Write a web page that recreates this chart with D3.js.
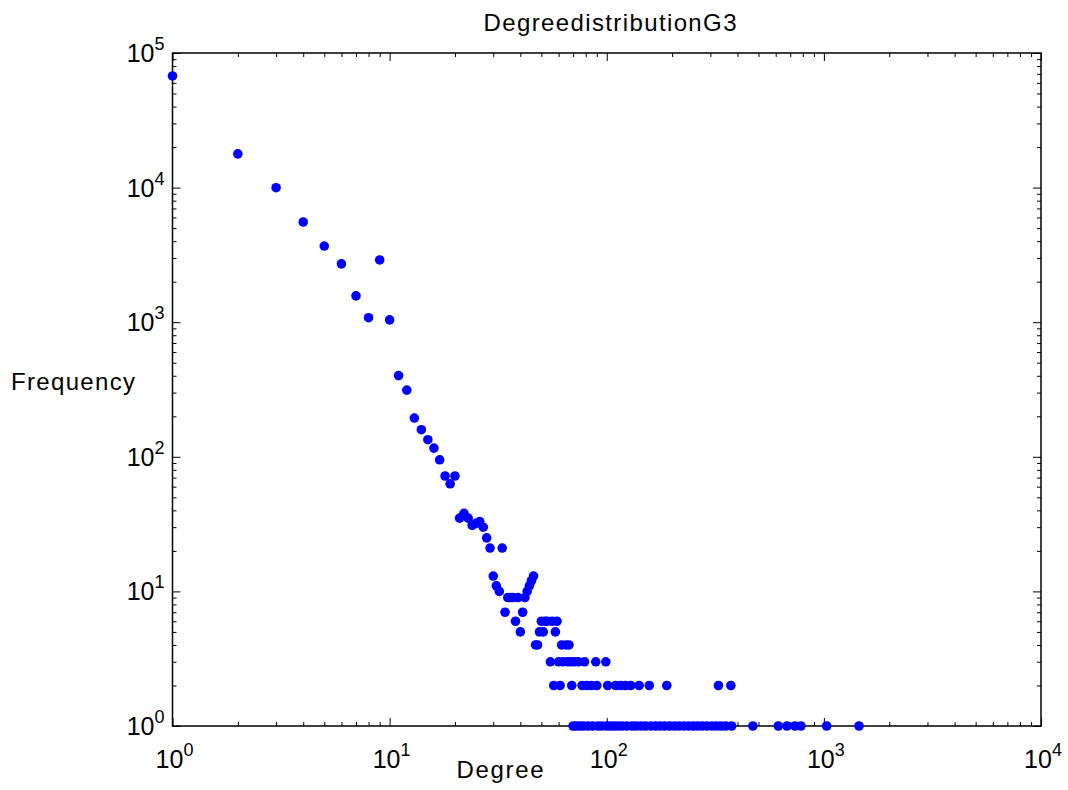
<!DOCTYPE html>
<html>
<head>
<meta charset="utf-8">
<script src="https://cdn.jsdelivr.net/npm/d3@7"></script>
<style>
  body { margin: 0; background: #fff; }
  svg { display: block; font-family: "Liberation Sans", Arial, sans-serif; }
</style>
</head>
<body>
<svg id="chart" width="1068" height="790"></svg>
<script>
// degree values and how often each one occurs
const degrees = [1, 2, 3, 4, 5, 6, 7, 8, 9, 10,
  11, 12, 13, 14, 15, 16, 17, 18, 19, 20,
  21, 22, 23, 24, 25, 26, 27, 28, 29, 30,
  31, 32, 33, 34, 35, 36, 37, 38, 39, 40,
  41, 42, 43, 44, 45, 46, 47, 48, 49, 50,
  51, 52, 53, 55, 56, 57, 58, 59, 60, 61,
  62, 63, 65, 66, 67, 68, 69, 70, 71, 72,
  74, 75, 77, 78, 79, 81, 82, 85, 86, 89,
  90, 91, 95, 99, 100, 101, 104, 108, 110, 113,
  116, 118, 122, 124, 129, 131, 137, 141, 144, 151,
  157, 160, 168, 176, 185, 189, 195, 205, 215, 226,
  238, 250, 262, 275, 290, 305, 320, 327, 336, 353,
  373, 376, 471, 617, 676, 736, 784, 1030, 1452];
const frequencies = [67500, 17800, 9980, 5550, 3680, 2710, 1570, 1080, 2900, 1040,
  401, 313, 194, 159, 134, 116, 95, 72, 63, 72,
  35, 38, 35, 31, 32, 33, 30, 25, 21, 13,
  11, 10, 21, 7, 9, 9, 9, 6, 9, 5,
  7, 9, 10, 11, 12, 13, 4, 4, 5, 6,
  5, 6, 6, 3, 6, 2, 5, 6, 3, 2,
  4, 3, 4, 3, 4, 3, 2, 1, 3, 1,
  3, 1, 2, 1, 3, 2, 1, 2, 1, 3,
  2, 1, 1, 3, 1, 2, 1, 1, 2, 1,
  2, 1, 2, 1, 2, 1, 1, 2, 1, 1,
  2, 1, 1, 1, 1, 2, 1, 1, 1, 1,
  1, 1, 1, 1, 1, 1, 1, 2, 1, 1,
  2, 1, 1, 1, 1, 1, 1, 1, 1];

const xMajor = [1, 10, 100, 1000, 10000];
const yMajor = [1, 10, 100, 1000, 10000, 100000];

const titleText = "DegreedistributionG3";
const xLabel = "Degree";
const yLabel = "Frequency";

var svg = d3.select("#chart"),
  margin = { top: 53, right: 27, bottom: 64, left: 172.5 },
  width = +svg.attr("width") - margin.left - margin.right,
  height = +svg.attr("height") - margin.top - margin.bottom;

const x = d3.scaleLog().domain([1, 1e4]).range([0, width]);
const y = d3.scaleLog().domain([1, 1e5]).range([height, 0]);

// minor ticks 2..9 for every decade
const minorOf = (majors) => {
  const out = [];
  majors.slice(0, -1).forEach((m) => {
    for (let k = 2; k < 10; k++) out.push(m * k);
  });
  return out;
};

const g = svg.append("g").attr("transform", `translate(${margin.left}, ${margin.top})`);

const addTicks = (axis, tr) => {
  g.append("g")
    .attr("transform", tr)
    .call(axis)
    .call((s) => s.select(".domain").remove())
    .call((s) => s.selectAll(".tick text").remove())
    .call((s) => s.selectAll(".tick line").attr("stroke", "#000").attr("stroke-width", 1));
};

// major + minor ticks, inward, on all four sides
addTicks(d3.axisBottom(x).tickValues(xMajor).tickSize(-8), `translate(0,${height})`);
addTicks(d3.axisBottom(x).tickValues(minorOf(xMajor)).tickSize(-4), `translate(0,${height})`);
addTicks(d3.axisTop(x).tickValues(xMajor).tickSize(-8), "translate(0,0)");
addTicks(d3.axisTop(x).tickValues(minorOf(xMajor)).tickSize(-4), "translate(0,0)");
addTicks(d3.axisLeft(y).tickValues(yMajor).tickSize(-8), "translate(0,0)");
addTicks(d3.axisLeft(y).tickValues(minorOf(yMajor)).tickSize(-4), "translate(0,0)");
addTicks(d3.axisRight(y).tickValues(yMajor).tickSize(-8), `translate(${width},0)`);
addTicks(d3.axisRight(y).tickValues(minorOf(yMajor)).tickSize(-4), `translate(${width},0)`);

// frame
g.append("rect")
  .attr("width", width)
  .attr("height", height)
  .attr("fill", "none")
  .attr("stroke", "#000")
  .attr("stroke-width", 1.5);

// tick labels 10^n
const powLabel = (sel, v) => {
  sel.append("tspan").text("10");
  sel.append("tspan")
    .attr("dy", -12)
    .attr("font-size", 18)
    .text(Math.round(Math.log10(v)));
};

g.selectAll(".xlab")
  .data(xMajor)
  .enter()
  .append("text")
  .attr("class", "xlab")
  .attr("x", (d) => x(d) + 2)
  .attr("y", height + 42)
  .attr("text-anchor", "middle")
  .attr("font-size", 25)
  .each(function (d) { powLabel(d3.select(this), d); });

g.selectAll(".ylab")
  .data(yMajor)
  .enter()
  .append("text")
  .attr("class", "ylab")
  .attr("x", -8)
  .attr("y", (d) => y(d) + 9)
  .attr("text-anchor", "end")
  .attr("font-size", 25)
  .each(function (d) { powLabel(d3.select(this), d); });

// points
g.selectAll("circle")
  .data(degrees.map((d, i) => ({ deg: d, freq: frequencies[i] })))
  .enter()
  .append("circle")
  .attr("cx", (d) => x(d.deg))
  .attr("cy", (d) => y(d.freq))
  .attr("r", 4.8)
  .attr("fill", "#0000ff");

svg.append("text")
  .attr("x", 610)
  .attr("y", 31)
  .attr("text-anchor", "middle")
  .attr("font-size", 24)
  .attr("textLength", 253)
  .text(titleText);

svg.append("text")
  .attr("x", 500)
  .attr("y", 778)
  .attr("text-anchor", "middle")
  .attr("font-size", 24)
  .attr("textLength", 87)
  .text(xLabel);

svg.append("text")
  .attr("x", 11)
  .attr("y", 390)
  .attr("font-size", 24)
  .attr("textLength", 124)
  .text(yLabel);
</script>
</body>
</html>
